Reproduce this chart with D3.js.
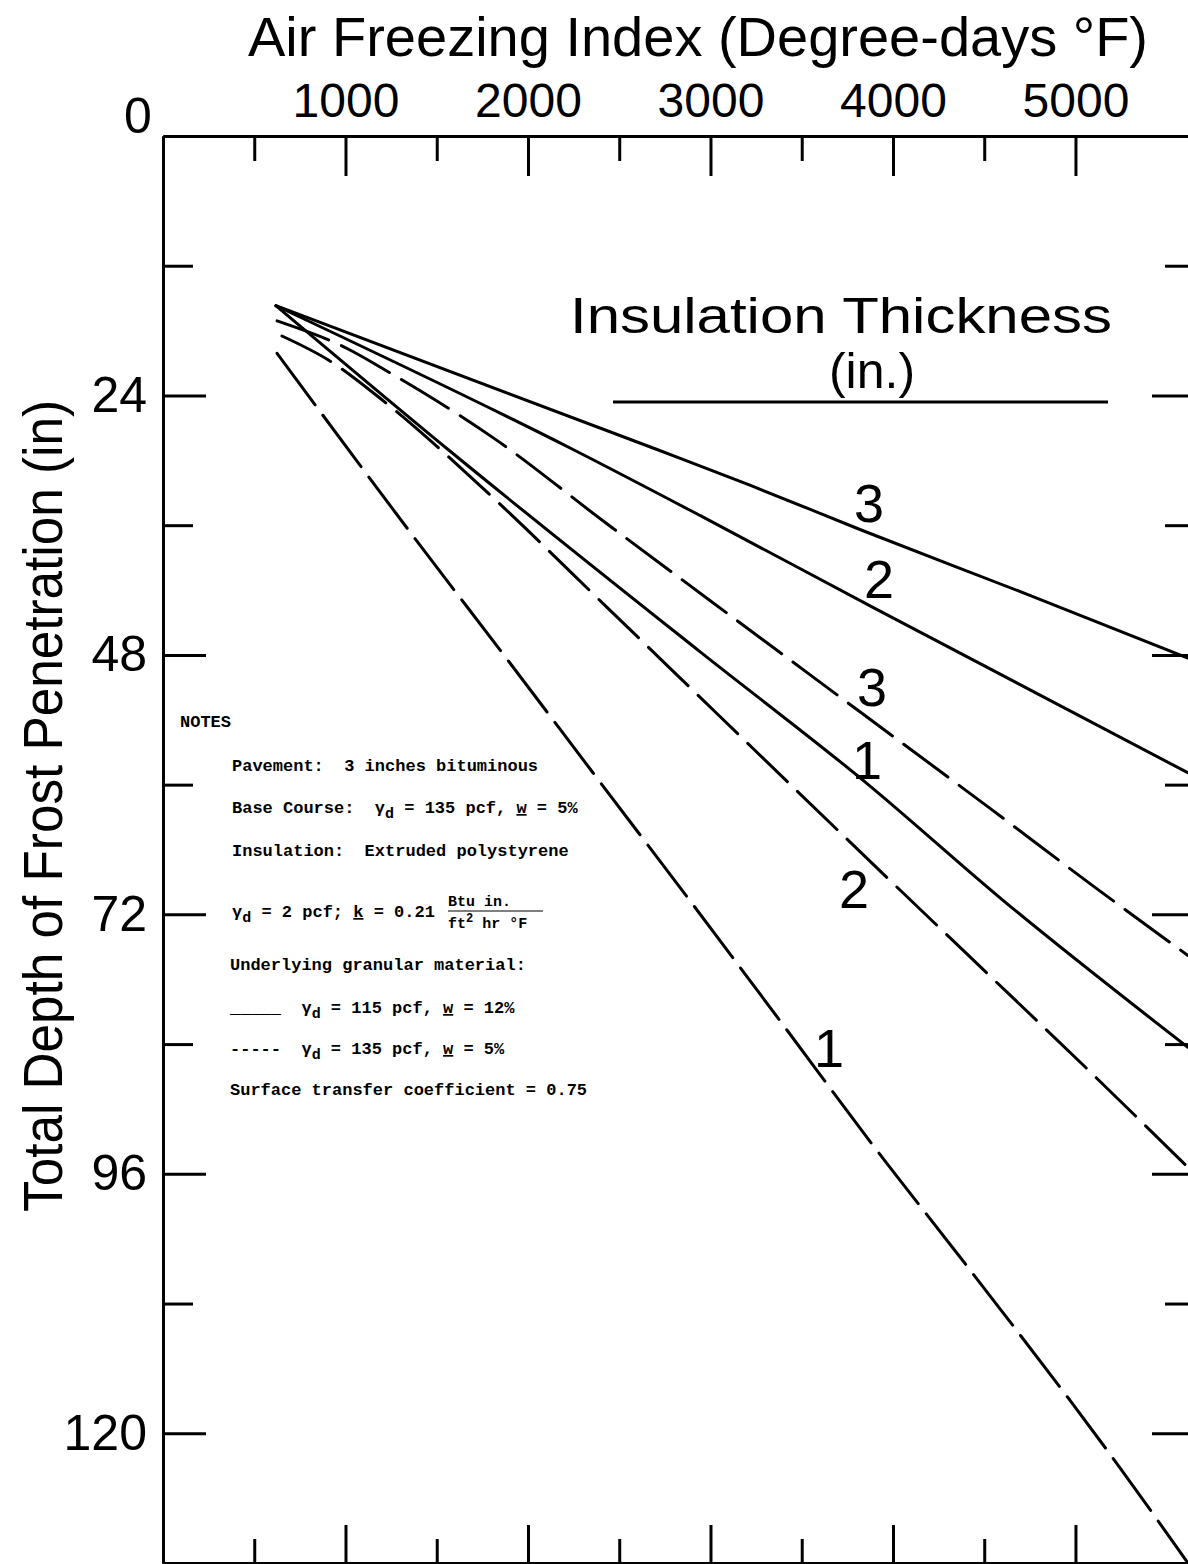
<!DOCTYPE html>
<html><head><meta charset="utf-8">
<script src="https://cdn.jsdelivr.net/npm/d3@7"></script>
<style>
html,body{margin:0;padding:0;background:#fff;}
svg{display:block;}
</style></head><body>
<svg id="chart" width="1188" height="1564"></svg>
<script>
// ---- data ----
const xMajorTicks = [1000, 2000, 3000, 4000, 5000];
const xMinorTicks = [500, 1500, 2500, 3500, 4500];
const yMajorTicks = [24, 48, 72, 96, 120];
const yMinorTicks = [12, 36, 60, 84, 108];

// [air freezing index (degree-days F), total frost depth (in)]
const solid3  = [[619,15.7],[2707,29.0],[3216,32.3],[3819,36.4],[4767,42.6],[5616,48.3]];
const solid2  = [[619,15.7],[2247,29.0],[2942,35.1],[3890,43.6],[5616,58.9]];
const solid1  = [[619,15.7],[1562,29.0],[2942,47.7],[3858,59.9],[4603,70.7],[5616,84.3]];
const dashed3 = [[625,17.1],[1014,19.7],[1233,21.8],[1808,27.9],[2427,35.8],[3008,43.1],[3830,53.4],[4532,62.2],[5107,69.5],[5616,75.8]];
const dashed2 = [[652,18.5],[904,20.7],[1200,24.4],[1792,33.2],[2433,43.6],[3052,53.7],[3764,65.3],[4395,75.5],[5052,86.1],[5616,95.4]];
const dashed1 = [[625,20.1],[1370,37.0],[1890,48.5],[2356,58.9],[2877,70.5],[3397,82.2],[3901,93.6],[4395,104.3],[5244,123.2],[5616,132.0]];

const curveLabels = ["3","2","3","1","2","1"];

// ---- layout ----
const svg = d3.select("#chart");
const L = 163, R = 1195, T = 136, B = 1563;
const x = d3.scaleLinear().domain([0, 5655]).range([L, R]);
const y = d3.scaleLinear().domain([0, 132]).range([T, B]);
const bigFont = "'Liberation Sans', Arial, sans-serif";
const monoFont = "'Liberation Mono', 'Courier New', monospace";

svg.append("rect").attr("width",1188).attr("height",1564).attr("fill","#fff");

function styleAxis(g){
  g.selectAll("path.domain").attr("stroke","#000").attr("stroke-width",3);
  g.selectAll(".tick line").attr("stroke","#000").attr("stroke-width",3);
  g.selectAll(".tick text").attr("fill","#000").attr("font-family",bigFont);
}

// top axis
svg.append("g").attr("transform",`translate(0,${T})`)
  .call(d3.axisTop(x).tickValues(xMajorTicks).tickSizeInner(-40).tickSizeOuter(0).tickPadding(19).tickFormat(d3.format("d")))
  .call(styleAxis).call(g=>g.selectAll(".tick text").attr("font-size",48));
svg.append("g").attr("transform",`translate(0,${T})`)
  .call(d3.axisTop(x).tickValues(xMinorTicks).tickSizeInner(-25).tickSizeOuter(0).tickFormat(""))
  .call(styleAxis);
// bottom axis
svg.append("g").attr("transform",`translate(0,${B})`)
  .call(d3.axisBottom(x).tickValues(xMajorTicks).tickSizeInner(-38).tickSizeOuter(0).tickFormat(""))
  .call(styleAxis);
svg.append("g").attr("transform",`translate(0,${B})`)
  .call(d3.axisBottom(x).tickValues(xMinorTicks).tickSizeInner(-24).tickSizeOuter(0).tickFormat(""))
  .call(styleAxis);
// left axis
svg.append("g").attr("transform",`translate(${L},0)`)
  .call(d3.axisLeft(y).tickValues(yMajorTicks).tickSizeInner(-43).tickSizeOuter(0).tickPadding(16).tickFormat(d3.format("d")))
  .call(styleAxis).call(g=>g.selectAll(".tick text").attr("font-size",50));
svg.append("g").attr("transform",`translate(${L},0)`)
  .call(d3.axisLeft(y).tickValues(yMinorTicks).tickSizeInner(-30).tickSizeOuter(0).tickFormat(""))
  .call(styleAxis);
// right axis
svg.append("g").attr("transform",`translate(${R},0)`)
  .call(d3.axisRight(y).tickValues(yMajorTicks).tickSizeInner(-43).tickSizeOuter(0).tickFormat(""))
  .call(styleAxis);
svg.append("g").attr("transform",`translate(${R},0)`)
  .call(d3.axisRight(y).tickValues(yMinorTicks).tickSizeInner(-30).tickSizeOuter(0).tickFormat(""))
  .call(styleAxis);

// shared zero label
svg.append("text").attr("x",138).attr("y",133).attr("text-anchor","middle")
  .attr("font-family",bigFont).attr("font-size",50).text("0");

// titles
svg.append("text").attr("x",698).attr("y",56).attr("text-anchor","middle")
  .attr("font-family",bigFont).attr("font-size",56)
  .attr("textLength",900).attr("lengthAdjust","spacingAndGlyphs")
  .text("Air Freezing Index (Degree-days °F)");
svg.append("text").attr("transform","translate(62,806) rotate(-90)").attr("text-anchor","middle")
  .attr("font-family",bigFont).attr("font-size",56)
  .attr("textLength",812).attr("lengthAdjust","spacingAndGlyphs")
  .text("Total Depth of Frost Penetration (in)");

// Insulation thickness header
svg.append("text").attr("x",841).attr("y",333).attr("text-anchor","middle")
  .attr("font-family",bigFont).attr("font-size",50)
  .attr("textLength",542).attr("lengthAdjust","spacingAndGlyphs")
  .text("Insulation Thickness");
svg.append("text").attr("x",872).attr("y",388).attr("text-anchor","middle")
  .attr("font-family",bigFont).attr("font-size",50).text("(in.)");
svg.append("line").attr("x1",613).attr("x2",1108).attr("y1",402).attr("y2",402)
  .attr("stroke","#000").attr("stroke-width",3);

// curves
svg.append("clipPath").attr("id","plotclip").append("rect")
  .attr("x",L).attr("y",T).attr("width",R-L).attr("height",B-T);
const line = d3.line().x(d=>x(d[0])).y(d=>y(d[1])).curve(d3.curveMonotoneX);
const series = [
  {d:solid3, dash:null},
  {d:solid2, dash:null},
  {d:dashed3, dash:"55,14"},
  {d:solid1, dash:null},
  {d:dashed2, dash:"55,14"},
  {d:dashed1, dash:"64,13"}
];
const cg = svg.append("g").attr("clip-path","url(#plotclip)");
series.forEach(s=>{
  cg.append("path").attr("d",line(s.d)).attr("fill","none").attr("stroke","#000")
    .attr("stroke-width",3).attr("stroke-linecap","round")
    .attr("stroke-dasharray",s.dash);
});

// curve labels (positions in data units)
const labelPos = [[3869,33.9],[3923,40.9],[3885,50.9],[3858,57.7],[3786,69.6],[3649,84.3]];
curveLabels.forEach((t,i)=>{
  svg.append("text").attr("x",x(labelPos[i][0])).attr("y",y(labelPos[i][1]))
    .attr("dy","0.36em").attr("text-anchor","middle")
    .attr("font-family",bigFont).attr("font-size",54).text(t);
});

// notes
const notes = svg.append("g").attr("font-family",monoFont).attr("font-weight","bold")
  .attr("font-size",17).attr("fill","#000");
function noteLine(xp, yp, parts, fs){
  const t = notes.append("text").attr("x",xp).attr("y",yp).attr("xml:space","preserve")
    .style("white-space","pre");
  if (fs) t.attr("font-size",fs);
  let pending = 0;
  parts.forEach(p=>{
    let ts;
    if (typeof p === "string") { ts = t.append("tspan").text(p); }
    else if (p.sub) { ts = t.append("tspan").attr("font-size",15).text(p.sub); ts.attr("dy",pending+5); pending=-5; return; }
    else if (p.sup) { ts = t.append("tspan").attr("font-size",12).text(p.sup); ts.attr("dy",pending-6); pending=6; return; }
    else if (p.u) { ts = t.append("tspan").attr("text-decoration","underline").text(p.u); }
    if (pending) { ts.attr("dy",pending); pending = 0; }
  });
  return t;
}
noteLine(180, 727, ["NOTES"]);
noteLine(232, 771, ["Pavement:  3 inches bituminous"]);
noteLine(232, 813, ["Base Course:  γ",{sub:"d"}," = 135 pcf, ",{u:"w"}," = 5%"]);
noteLine(232, 856, ["Insulation:  Extruded polystyrene"]);
noteLine(232, 917, ["γ",{sub:"d"}," = 2 pcf; ",{u:"k"}," = 0.21"]);
noteLine(448, 906, ["Btu in."], 15);
notes.append("line").attr("x1",448).attr("x2",543).attr("y1",911).attr("y2",911)
  .attr("stroke","#000").attr("stroke-width",1.2);
noteLine(448, 928, ["ft",{sup:"2"}," hr °F"], 15);
noteLine(230, 970, ["Underlying granular material:"]);
noteLine(230, 1013, ["_____  γ",{sub:"d"}," = 115 pcf, ",{u:"w"}," = 12%"]);
noteLine(230, 1054, ["-----  γ",{sub:"d"}," = 135 pcf, ",{u:"w"}," = 5%"]);
noteLine(230, 1095, ["Surface transfer coefficient = 0.75"]);
</script>
</body></html>
